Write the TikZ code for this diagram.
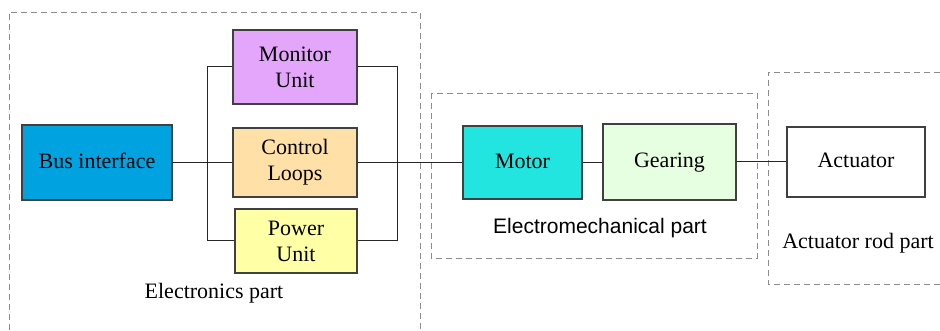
\documentclass[tikz,border=0pt]{standalone}
\usepackage{fontspec}
\setmainfont{Liberation Serif}
\setsansfont{Liberation Sans}
\begin{document}
\begin{tikzpicture}[x=0.5pt,y=-0.5pt,
  blk/.style={draw=black!75, line width=0.6pt, inner sep=0pt, align=center,
    font=\fontsize{11}{13}\selectfont},
  oneline/.style={text height=1.6ex, text depth=0.3ex},
  grp/.style={draw=black!45, dashed, dash pattern=on 3pt off 2pt, line width=0.4pt},
  wire/.style={draw=black!85, line width=0.5pt},
  lbl/.style={inner sep=0pt, font=\fontsize{11}{13}\selectfont}]
\definecolor{busc}{RGB}{0,163,224}
\definecolor{monc}{RGB}{228,166,250}
\definecolor{ctlc}{RGB}{255,224,166}
\definecolor{pwrc}{RGB}{255,255,166}
\definecolor{motc}{RGB}{34,229,224}
\definecolor{gearc}{RGB}{230,255,224}
\useasboundingbox (0,0) rectangle (940,331);
\clip (0,0) rectangle (940,331);
% group frames
\draw[grp] (9,340) -- (9,12) -- (420,12) -- (420,340);
\draw[grp] (431,93) rectangle (757,258);
\draw[grp] (950,72) -- (768,72) -- (768,284) -- (950,284);
% blocks
\node[blk, oneline, fill=busc, minimum width=75pt, minimum height=37.5pt] (bus) at (97,162.5) {Bus interface};
\node[blk, fill=monc, minimum width=62pt, minimum height=37pt] (mon) at (295,67) {Monitor\\Unit};
\node[blk, fill=ctlc, minimum width=62pt, minimum height=34.5pt] (ctl) at (295,162.5) {Control\\Loops};
\node[blk, fill=pwrc, minimum width=61pt, minimum height=32pt] (pwr) at (296,241) {Power\\Unit};
\node[blk, oneline, fill=motc, minimum width=59.5pt, minimum height=36.5pt] (mot) at (522.5,162.5) {Motor};
\node[blk, oneline, fill=gearc, minimum width=66.5pt, minimum height=38pt] (gear) at (669.5,162) {Gearing};
\node[blk, oneline, fill=white, minimum width=69pt, minimum height=35pt] (act) at (856,162) {Actuator};
% labels
\node[lbl] (elab) at (214,293) {Electronics part};
\node[lbl, font=\sffamily\fontsize{10.5}{12}\selectfont] (emlab) at (600,228) {Electromechanical part};
\node[lbl] (alab) at (858,243) {Actuator rod part};
% junctions
\coordinate (jl) at (207,162.5);
\coordinate (jr) at (397,162.5);
\coordinate (jlt) at (207,67);
\coordinate (jlb) at (207,240);
\coordinate (jrt) at (397,67);
\coordinate (jrb) at (397,240);
% wires
\draw[wire] (bus.east) -- (jl) -- (ctl.west);
\draw[wire] (mon.west) -- (jlt) -- (jlb) -- (pwr.west |- jlb);
\draw[wire] (mon.east) -- (jrt) -- (jrb) -- (pwr.east |- jrb);
\draw[wire] (ctl.east) -- (mot.west);
\draw[wire] (mot.east) -- (gear.west |- mot.east);
\draw[wire] (gear.east) -- (act.west);
\end{tikzpicture}
\end{document}
